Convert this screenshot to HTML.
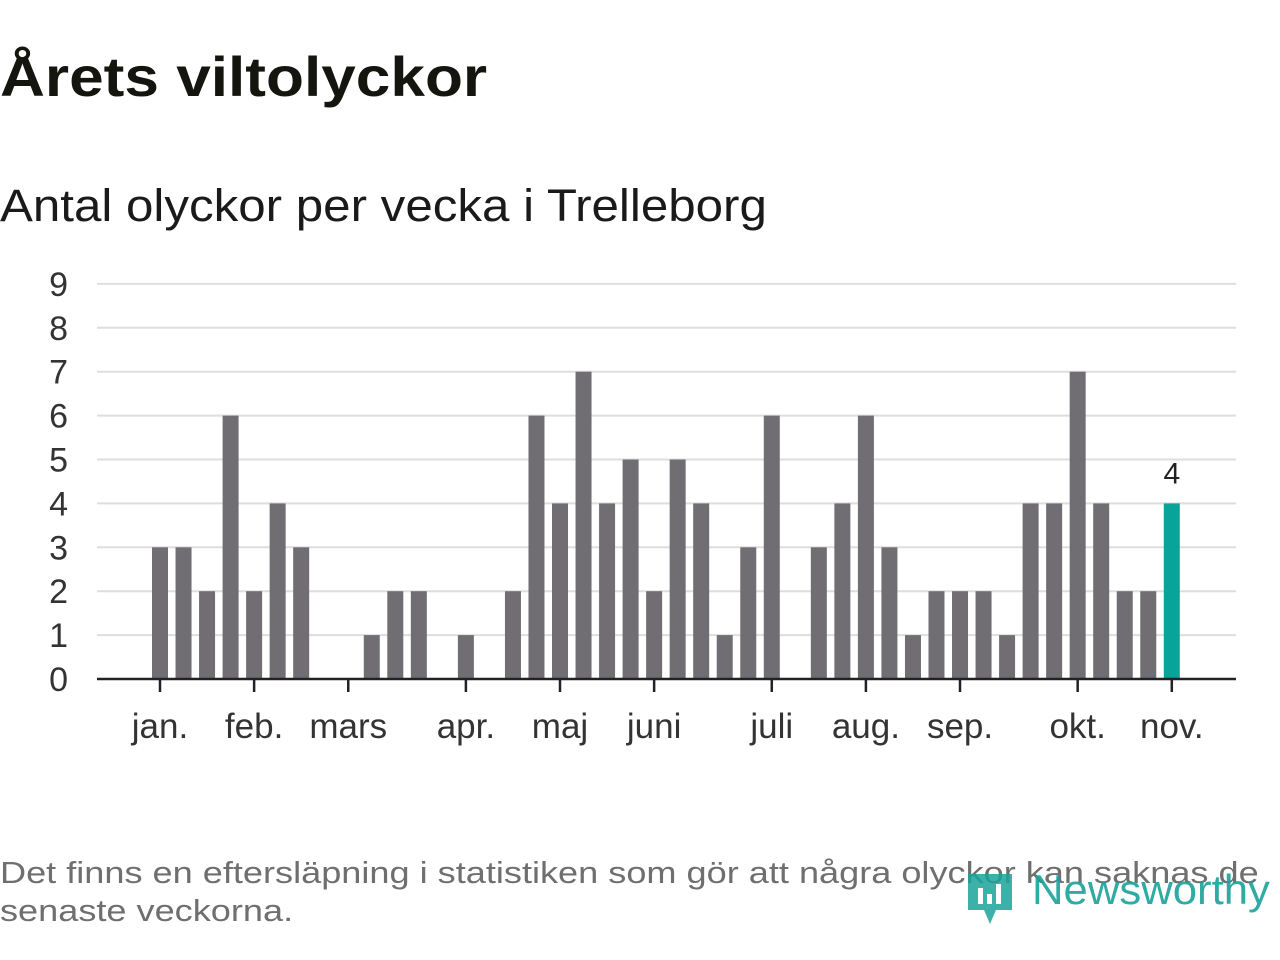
<!DOCTYPE html>
<html><head><meta charset="utf-8"><style>
body{margin:0;width:1280px;height:960px;background:#fff;font-family:"Liberation Sans","DejaVu Sans",sans-serif;overflow:hidden;position:relative}
.t{position:absolute;white-space:nowrap;transform-origin:0 0}
</style></head><body>
<div class="t" style="left:0;top:44px;font-size:56px;font-weight:bold;color:#15150f;transform:scaleX(1.11)">Årets viltolyckor</div>
<div class="t" style="left:0;top:180px;font-size:45px;color:#1a1a1a;transform:scaleX(1.095)">Antal olyckor per vecka i Trelleborg</div>
<svg id="c" width="1280" height="800" style="position:absolute;left:0;top:0"></svg>
<div class="t" style="left:0;top:854px;font-size:31px;color:#6f6f6f;line-height:38px;transform:scaleX(1.165)">Det finns en eftersläpning i statistiken som gör att några olyckor kan saknas de<br>senaste veckorna.</div>
<div style="position:absolute;left:966px;top:862px;width:310px;height:64px">
<svg width="50" height="64" style="position:absolute;left:0;top:0"><path d="M2 12 h44 v36 h-16 l-6 14 l-6-14 h-16z" fill="#1aa39a" opacity="0.85"/><rect x="12" y="26" width="5" height="16" fill="#fff"/><rect x="21" y="32" width="5" height="10" fill="#fff"/><rect x="30" y="22" width="5" height="20" fill="#fff"/></svg>
<div class="t" style="left:66px;top:4px;font-size:42px;color:#1aa39a;opacity:0.9;transform:scaleX(1.04)">Newsworthy</div></div>
<script>
const values=[3,3,2,6,2,4,3,0,0,1,2,2,0,1,0,2,6,4,7,4,5,2,5,4,1,3,6,0,3,4,6,3,1,2,2,2,1,4,4,7,4,2,2,4];
const yTicks=[0,1,2,3,4,5,6,7,8,9];
const monthLabels=["jan.","feb.","mars","apr.","maj","juni","juli","aug.","sep.","okt.","nov."];
const monthWeeks=[0,4,8,13,17,21,26,30,34,39,43];
const svg=document.getElementById('c');const NS='http://www.w3.org/2000/svg';
const x=i=>160+i*23.53, y=v=>679-v*43.9;
function el(t,a,p){const e=document.createElementNS(NS,t);for(const k in a)e.setAttribute(k,a[k]);(p||svg).appendChild(e);return e;}
yTicks.forEach(v=>{
 if(v>0){const g=el('line',{x1:97,x2:1236,y1:y(v),y2:y(v),stroke:'#dedede','stroke-width':2});
 
 }
 const t=el('text',{x:68,y:y(v)+12,'text-anchor':'end','font-size':34,fill:'#333'});t.textContent=v;
 
 
});
values.forEach((v,i)=>{if(!v)return;const last=i===values.length-1;
 const r=el('rect',{x:x(i)-8,y:y(v),width:16,height:y(0)-y(v),fill:last?'#08a399':'#706e73'});
 
 
 if(last){const t=el('text',{x:x(i),y:y(v)-20,'text-anchor':'middle','font-size':30,fill:'#222'});t.textContent=v;
 
 }
});
const ax=el('line',{x1:97,x2:1236,y1:679,y2:679,stroke:'#222','stroke-width':2.5});


monthWeeks.forEach((w,k)=>{
 const tk=el('line',{x1:x(w),x2:x(w),y1:679,y2:692,stroke:'#222','stroke-width':2.5});
 
 
 const t=el('text',{x:x(w),y:738,'text-anchor':'middle','font-size':35,fill:'#333'});t.textContent=monthLabels[k];
 
 
});
</script>
</body></html>
